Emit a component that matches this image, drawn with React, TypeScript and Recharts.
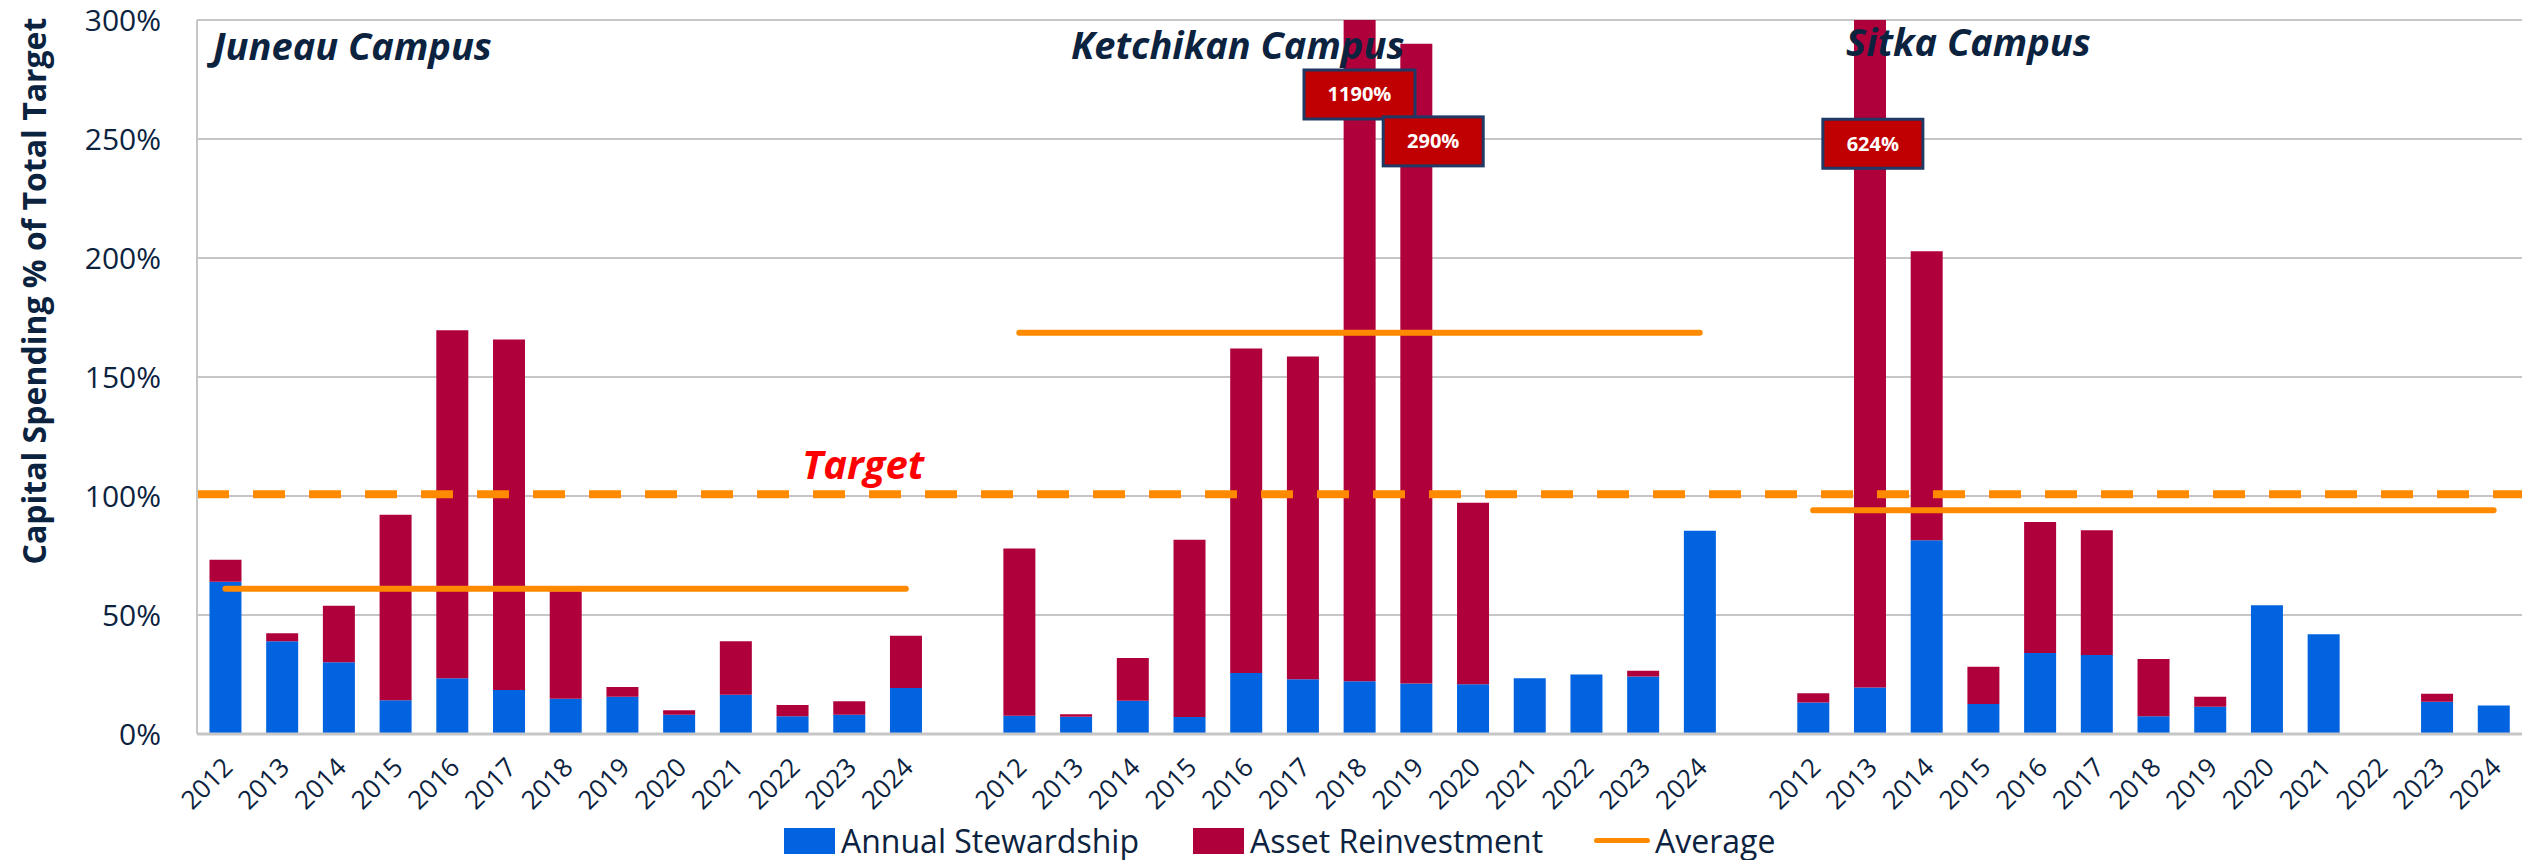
import React from "react";
import {
  ComposedChart,
  Bar,
  Line,
  XAxis,
  YAxis,
  CartesianGrid,
  ReferenceLine,
  ReferenceDot,
} from "recharts";

const CAMPUSES = ["Juneau Campus", "Ketchikan Campus", "Sitka Campus"];
const YEARS = ["2012", "2013", "2014", "2015", "2016", "2017", "2018", "2019", "2020", "2021", "2022", "2023", "2024"];

// % of total target
const JUNEAU_STEWARDSHIP = [64, 39, 30.1, 14.2, 23.4, 18.5, 14.8, 15.7, 8.1, 16.5, 7.5, 8.1, 19.3];
const JUNEAU_REINVESTMENT = [9.2, 3.3, 23.8, 77.9, 146.2, 147.3, 45.2, 4.0, 1.9, 22.5, 4.7, 5.7, 22.0];
const KETCHIKAN_STEWARDSHIP = [7.7, 7.3, 14, 7.1, 25.6, 23, 22.2, 21.2, 20.9, 23.4, 25, 24.2, 85.4];
const KETCHIKAN_REINVESTMENT = [70.2, 1.0, 17.9, 74.5, 136.4, 135.6, 1167.8, 268.8, 76.3, 0, 0, 2.4, 0];
const SITKA_STEWARDSHIP = [13.2, 19.5, 81.4, 12.6, 34, 33.2, 7.5, 11.4, 54.1, 41.9, 0, 13.6, 12];
const SITKA_REINVESTMENT = [3.9, 604.5, 121.4, 15.7, 55.1, 52.4, 24, 4.3, 0, 0, 0, 3.3, 0];

const AVERAGES = [61, 168.6, 94];
const TARGET = 100.7;
const Y_TICKS = [0, 50, 100, 150, 200, 250, 300];

// overflow callouts for bars above 300%
const CALLOUT_CAMPUS = [1, 1, 2];
const CALLOUT_YEAR = ["2018", "2019", "2013"];
const CALLOUT_TEXT = ["1190%", "290%", "624%"];
const CALLOUT_Y = [268.7, 249, 248];
const CALLOUT_DX = [0, 17, 3];

const STEWARDSHIP = [JUNEAU_STEWARDSHIP, KETCHIKAN_STEWARDSHIP, SITKA_STEWARDSHIP];
const REINVESTMENT = [JUNEAU_REINVESTMENT, KETCHIKAN_REINVESTMENT, SITKA_REINVESTMENT];

const BLUE = "#0163E0";
const RED = "#B0003C";
const ORANGE = "#FF8A00";
const NAVY = "#0C2340";
const GRID = "#C6C6C6";
const FONT = "'Open Sans', sans-serif";

const data: any[] = [];
CAMPUSES.forEach((_, c) => {
  if (c > 0) data.push({ key: `gap${c}`, avg: null });
  YEARS.forEach((year, i) => {
    data.push({
      key: `${c}-${year}`,
      stewardship: STEWARDSHIP[c][i],
      reinvestment: REINVESTMENT[c][i],
      avg: AVERAGES[c],
    });
  });
});

function YearTick(props: any) {
  const { x, y, payload } = props;
  const year = String(payload.value).split("-")[1] || "";
  const tx = x + 9;
  const ty = y + 27;
  return (
    <text
      x={tx}
      y={ty}
      transform={`rotate(-45, ${tx}, ${ty})`}
      textAnchor="end"
      fill={NAVY}
      fontSize={26}
      fontFamily={FONT}
    >
      {year}
    </text>
  );
}

function CalloutBox(props: any) {
  const { cx, cy, text, dx } = props;
  const w = 56 + 11 * text.length;
  const h = 49;
  const x = cx + dx;
  return (
    <g>
      <rect x={x - w / 2} y={cy - h / 2} width={w} height={h} fill="#C00000" stroke="#1F3864" strokeWidth={3} />
      <text
        x={x}
        y={cy + 7}
        textAnchor="middle"
        fill="#fff"
        fontSize={20}
        fontWeight="bold"
        fontFamily={FONT}
      >
        {text}
      </text>
    </g>
  );
}

const legendItem = { display: "flex", alignItems: "center" } as const;

export default function App() {
  return (
    <div style={{ position: "absolute", left: 0, top: 0, width: 2526, height: 860, background: "#fff" }}>
      <ComposedChart
        width={2526}
        height={860}
        data={data}
        margin={{ top: 20, right: 4, left: 0, bottom: 0 }}
        barCategoryGap="22%"
      >
        <CartesianGrid vertical={false} stroke={GRID} strokeWidth={2} />
        <XAxis
          dataKey="key"
          interval={0}
          height={126}
          tick={<YearTick />}
          tickLine={false}
          axisLine={{ stroke: GRID, strokeWidth: 3 }}
        />
        <YAxis
          width={197}
          domain={[0, 300]}
          allowDataOverflow
          ticks={Y_TICKS}
          tickFormatter={(v) => `${v}%`}
          tickLine={false}
          tickSize={10}
          tickMargin={26}
          axisLine={{ stroke: GRID, strokeWidth: 2 }}
          tick={{ fill: NAVY, fontSize: 30, fontFamily: FONT }}
        />
        <YAxis
          yAxisId="right"
          orientation="right"
          width={0}
          domain={[0, 300]}
          tick={false}
          tickLine={false}
          axisLine={{ stroke: GRID, strokeWidth: 3 }}
        />
        <Bar dataKey="stewardship" stackId="a" fill={BLUE} isAnimationActive={false} />
        <Bar dataKey="reinvestment" stackId="a" fill={RED} isAnimationActive={false} />
        <ReferenceLine y={TARGET} stroke={ORANGE} strokeWidth={8} strokeDasharray="32 24" />
        <Line
          dataKey="avg"
          stroke={ORANGE}
          strokeWidth={6}
          strokeLinecap="round"
          dot={false}
          activeDot={false}
          connectNulls={false}
          isAnimationActive={false}
        />
        {CALLOUT_TEXT.map((text, i) => (
          <ReferenceDot
            key={text}
            x={`${CALLOUT_CAMPUS[i]}-${CALLOUT_YEAR[i]}`}
            y={CALLOUT_Y[i]}
            r={0}
            shape={(p: any) => <CalloutBox {...p} text={text} dx={CALLOUT_DX[i]} />}
          />
        ))}
      </ComposedChart>

      <svg
        width={2526}
        height={860}
        style={{ position: "absolute", left: 0, top: 0, pointerEvents: "none" }}
        fontFamily={FONT}
      >
        <text x={213} y={60} fill={NAVY} fontSize={38} fontWeight="bold" fontStyle="italic">
          {CAMPUSES[0]}
        </text>
        <text x={1071} y={59} fill={NAVY} fontSize={38} fontWeight="bold" fontStyle="italic">
          {CAMPUSES[1]}
        </text>
        <text x={1846} y={56} fill={NAVY} fontSize={38} fontWeight="bold" fontStyle="italic">
          {CAMPUSES[2]}
        </text>
        <text x={802} y={479} fill="#FF0000" fontSize={40} fontWeight="bold" fontStyle="italic">
          Target
        </text>
        <text
          x={46}
          y={291}
          transform="rotate(-90, 46, 291)"
          textAnchor="middle"
          fill={NAVY}
          fontSize={32}
          fontWeight="bold"
        >
          Capital Spending % of Total Target
        </text>
      </svg>

      <div
        style={{
          position: "absolute",
          left: 784,
          top: 819,
          display: "flex",
          alignItems: "center",
          fontFamily: FONT,
          fontSize: 32,
          color: NAVY,
          whiteSpace: "nowrap",
        }}
      >
        <div style={legendItem}>
          <span style={{ width: 51, height: 26, background: BLUE, marginRight: 6 }} />
          <span>Annual Stewardship</span>
        </div>
        <div style={{ ...legendItem, marginLeft: 54 }}>
          <span style={{ width: 51, height: 26, background: RED, marginRight: 6 }} />
          <span>Asset Reinvestment</span>
        </div>
        <div style={{ ...legendItem, marginLeft: 51 }}>
          <span style={{ width: 56, height: 5, borderRadius: 3, background: ORANGE, marginRight: 5 }} />
          <span>Average</span>
        </div>
      </div>
    </div>
  );
}
